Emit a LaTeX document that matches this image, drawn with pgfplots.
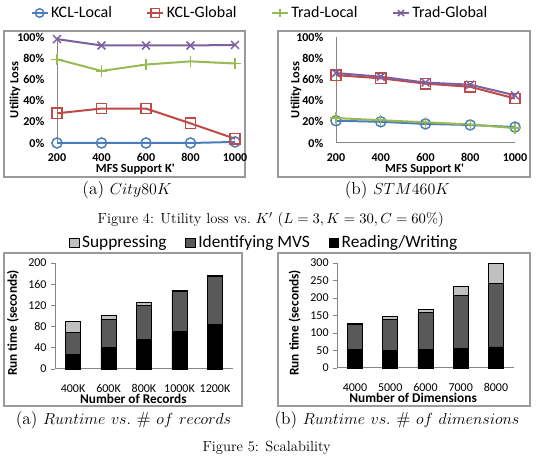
\documentclass[border=0pt]{standalone}
\usepackage{pgfplots}
\pgfplotsset{compat=1.18}
\usepackage{fontspec}
\newfontfamily\carlito{Carlito}
\definecolor{cBlue}{HTML}{4A7EBB}
\definecolor{cRed}{HTML}{BE4B48}
\definecolor{cGreen}{HTML}{98B954}
\definecolor{cPurple}{HTML}{7D60A0}
\definecolor{axgray}{HTML}{868686}
\definecolor{frgray}{HTML}{9A9A9A}
\definecolor{lgray}{HTML}{C0C0C0}
\definecolor{dgray}{HTML}{595959}
\pgfplotsset{
  linechart/.style={
    scale only axis, anchor=south west, clip=false,
    xmin=200, xmax=1000, ymin=0, ymax=100,
    axis lines=left, axis line style={-, draw=axgray, line width=0.75pt},
    xtick={200,400,600,800,1000}, xticklabels={200,400,600,800,1000},
    ytick={0,20,40,60,80,100}, yticklabels={0\%,20\%,40\%,60\%,80\%,100\%},
    major tick length=0pt,
    ticklabel style={font=\carlito\bfseries\fontsize{9}{10}\selectfont},
    xticklabel style={anchor=base, yshift=-14pt},
    yticklabel style={xshift=-6pt},
    label style={font=\carlito\bfseries\fontsize{9.3}{10}\selectfont},
    every axis plot/.append style={line width=1.5pt, mark options={solid, line width=1.1pt}},
  },
  barchart/.style={
    scale only axis, anchor=south west, clip=false,
    ybar stacked, bar width=11.25pt,
    xmin=-0.5, xmax=4.5, ymin=0,
    axis lines=left, axis line style={-, draw=axgray, line width=0.75pt},
    xtick={0,1,2,3,4}, x tick style={draw=none},
    y tick style={draw=axgray, line width=0.6pt}, tick align=outside, major tick length=3pt,
    ticklabel style={font=\carlito\fontsize{9}{10}\selectfont},
    xticklabel style={anchor=base, yshift=-14.5pt},
    label style={font=\carlito\bfseries\fontsize{10}{11}\selectfont},
    every axis plot/.append style={draw=black, line width=0.6pt},
  },
  kl/.style={color=cBlue, mark=o, mark size=3.8pt},
  kg/.style={color=cRed, mark=square, mark size=3.9pt},
  tl/.style={color=cGreen, mark=+, mark size=4.2pt},
  tg/.style={color=cPurple, mark=x, mark size=4.2pt},
}
\begin{document}
\begin{tikzpicture}
\path[use as bounding box] (0pt,0pt) rectangle (402pt,344.25pt);
% frames
\draw[frgray, line width=0.8pt] (3pt,211.5pt) rectangle (183.75pt,321pt);
\draw[frgray, line width=0.8pt] (208.5pt,211.5pt) rectangle (397.5pt,321pt);
\draw[frgray, line width=0.8pt] (3pt,39.75pt) rectangle (181.5pt,154.5pt);
\draw[frgray, line width=0.8pt] (208.5pt,39.75pt) rectangle (397.5pt,154.5pt);

% ---- Line chart (a)
\begin{axis}[linechart, at={(42.75pt,237pt)}, width=133.5pt, height=79.5pt,
  xlabel={MFS Support K'}, ylabel={Utility Loss},
  xlabel style={at={(axis description cs:0.44,-0.275)}, anchor=base},
  ylabel style={at={(axis description cs:-0.236,0.5)}, anchor=center},
  legend columns=4,
  legend style={draw=none, fill=none, at={(axis description cs:1.143,1.226)}, anchor=center,
    font=\carlito\fontsize{12}{13}\selectfont,
    /tikz/every even column/.append style={column sep=24pt}},
  legend image code/.code={\draw[mark repeat=2,mark phase=2,#1,line width=1.1pt,mark size=3.2pt] plot coordinates {(0pt,0pt) (6pt,0pt) (12pt,0pt)};},
]
\addplot[kl] coordinates {(200,0) (400,0) (600,0) (800,0) (1000,1)};
\addlegendentry{KCL-Local}
\addplot[kg] coordinates {(200,28) (400,32.5) (600,32.5) (800,18.5) (1000,4)};
\addlegendentry{KCL-Global}
\addplot[tl] coordinates {(200,79) (400,68) (600,74) (800,77) (1000,75)};
\addlegendentry{Trad-Local}
\addplot[tg] coordinates {(200,98) (400,92) (600,92) (800,92) (1000,92.5)};
\addlegendentry{Trad-Global}
\end{axis}

% ---- Line chart (b)
\begin{axis}[linechart, at={(252pt,237pt)}, width=134.25pt, height=79.5pt,
  xlabel={MFS Support K'}, ylabel={Utility Loss},
  xlabel style={at={(axis description cs:0.495,-0.28)}, anchor=base},
  ylabel style={at={(axis description cs:-0.223,0.5)}, anchor=center},
]
\addplot[kl] coordinates {(200,21) (400,20) (600,18) (800,17) (1000,15)};
\addplot[kg] coordinates {(200,64) (400,61) (600,56) (800,53) (1000,42)};
\addplot[tl] coordinates {(200,23.5) (400,21.5) (600,19.5) (800,17.5) (1000,14)};
\addplot[tg] coordinates {(200,66) (400,62.5) (600,57) (800,55) (1000,45)};
\end{axis}

% ---- Bar chart (a)
\begin{axis}[barchart, at={(41.44pt,67.5pt)}, width=133.1pt, height=79.5pt,
  ymax=200, ytick={0,40,80,120,160,200}, yticklabels={0,40,80,120,160,200},
  xticklabels={400K,600K,800K,1000K,1200K},
  xlabel={Number of Records}, ylabel={Run time (seconds)},
  xlabel style={at={(axis description cs:0.44,-0.325)}, anchor=base},
  ylabel style={at={(axis description cs:-0.238,0.434)}, anchor=center},
  legend columns=3, reverse legend,
  legend style={draw=none, fill=none, at={(axis description cs:1.179,1.189)}, anchor=center,
    font=\carlito\fontsize{13}{14}\selectfont,
    /tikz/every even column/.append style={column sep=12pt}},
  legend image code/.code={\draw[#1, line width=0.6pt] (-2pt,-3.6pt) rectangle (5.2pt,3.6pt);},
]
\addplot[fill=black] coordinates {(0,27) (1,41) (2,56) (3,71) (4,84)};
\addlegendentry{Reading/Writing}
\addplot[fill=dgray] coordinates {(0,42) (1,53) (2,64) (3,76) (4,90)};
\addlegendentry{Identifying MVS}
\addplot[fill=lgray] coordinates {(0,20) (1,8) (2,5) (3,2) (4,2)};
\addlegendentry{Suppressing}
\end{axis}

% ---- Bar chart (b)
\begin{axis}[barchart, at={(253pt,68.25pt)}, width=132.2pt, height=78.75pt,
  ymax=300, ytick={0,50,100,150,200,250,300}, yticklabels={0,50,100,150,200,250,300},
  xticklabels={4000,5000,6000,7000,8000},
  xlabel={Number of Dimensions}, ylabel={Run time (seconds)},
  xlabel style={at={(axis description cs:0.43,-0.33)}, anchor=base},
  ylabel style={at={(axis description cs:-0.242,0.43)}, anchor=center},
]
\addplot[fill=black] coordinates {(0,54) (1,51) (2,52) (3,56) (4,60)};
\addplot[fill=dgray] coordinates {(0,70) (1,88) (2,106) (3,150) (4,181)};
\addplot[fill=lgray] coordinates {(0,3) (1,8) (2,10) (3,27) (4,57)};
\end{axis}

% captions
\begingroup
\fontsize{11}{13}\selectfont
\node at (203pt,179.25pt) {Figure 4: Utility loss vs.~$K'$ $(L=3, K=30, C=60\%)$};
\node at (200pt,8.25pt) {Figure 5: Scalability};
\fontsize{13}{15}\selectfont
\node at (95.25pt,201.75pt) {(a) $City80K$};
\node at (298pt,201.75pt) {(b) $STM460K$};
\node at (92.6pt,29pt) {(a) $Runtime\ vs.\ \#\ of\ records$};
\node at (297.75pt,29pt) {(b) $Runtime\ vs.\ \#\ of\ dimensions$};
\endgroup
\end{tikzpicture}
\end{document}
